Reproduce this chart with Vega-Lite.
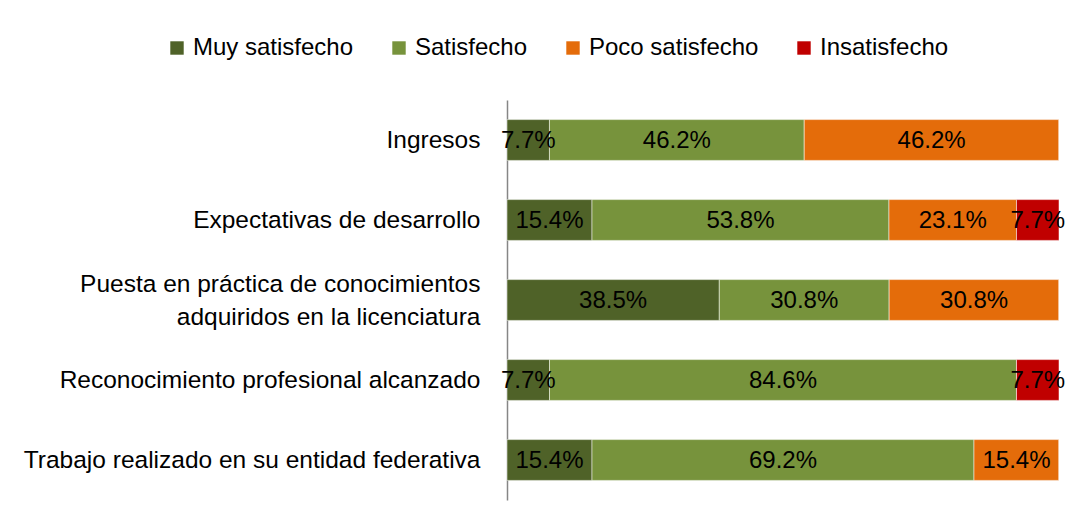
{
  "$schema": "https://vega.github.io/schema/vega-lite/v6.json",
  "width": 552,
  "height": 400,
  "autosize": {"type": "none"},
  "padding": {"left": 507, "top": 100, "right": 19, "bottom": 25},
  "background": "#ffffff",
  "config": {
    "font": "Liberation Sans",
    "view": {"stroke": null},
    "legend": {"padding": 0}
  },
  "data": {
    "values": [
      {"item": "Ingresos", "cat": "Muy satisfecho", "k": 1, "v": 0.077},
      {"item": "Ingresos", "cat": "Satisfecho", "k": 2, "v": 0.462},
      {"item": "Ingresos", "cat": "Poco satisfecho", "k": 3, "v": 0.462},
      {"item": "Ingresos", "cat": "Insatisfecho", "k": 4, "v": 0},
      {"item": "Expectativas de desarrollo", "cat": "Muy satisfecho", "k": 1, "v": 0.154},
      {"item": "Expectativas de desarrollo", "cat": "Satisfecho", "k": 2, "v": 0.538},
      {"item": "Expectativas de desarrollo", "cat": "Poco satisfecho", "k": 3, "v": 0.231},
      {"item": "Expectativas de desarrollo", "cat": "Insatisfecho", "k": 4, "v": 0.077},
      {"item": "Puesta en práctica de conocimientos adquiridos en la licenciatura", "cat": "Muy satisfecho", "k": 1, "v": 0.385},
      {"item": "Puesta en práctica de conocimientos adquiridos en la licenciatura", "cat": "Satisfecho", "k": 2, "v": 0.308},
      {"item": "Puesta en práctica de conocimientos adquiridos en la licenciatura", "cat": "Poco satisfecho", "k": 3, "v": 0.308},
      {"item": "Puesta en práctica de conocimientos adquiridos en la licenciatura", "cat": "Insatisfecho", "k": 4, "v": 0},
      {"item": "Reconocimiento profesional alcanzado", "cat": "Muy satisfecho", "k": 1, "v": 0.077},
      {"item": "Reconocimiento profesional alcanzado", "cat": "Satisfecho", "k": 2, "v": 0.846},
      {"item": "Reconocimiento profesional alcanzado", "cat": "Poco satisfecho", "k": 3, "v": 0},
      {"item": "Reconocimiento profesional alcanzado", "cat": "Insatisfecho", "k": 4, "v": 0.077},
      {"item": "Trabajo realizado en su entidad federativa", "cat": "Muy satisfecho", "k": 1, "v": 0.154},
      {"item": "Trabajo realizado en su entidad federativa", "cat": "Satisfecho", "k": 2, "v": 0.692},
      {"item": "Trabajo realizado en su entidad federativa", "cat": "Poco satisfecho", "k": 3, "v": 0.154},
      {"item": "Trabajo realizado en su entidad federativa", "cat": "Insatisfecho", "k": 4, "v": 0}
    ]
  },
  "encoding": {
    "y": {
      "field": "item",
      "type": "nominal",
      "sort": null,
      "title": null,
      "scale": {"paddingInner": 0.49, "paddingOuter": 0.245},
      "axis": {
        "ticks": false,
        "domainColor": "#868686",
        "domainWidth": 1.5,
        "labelFontSize": 24.5,
        "labelColor": "#000000",
        "labelPadding": 27,
        "labelLimit": 600,
        "labelLineHeight": 33,
        "labelOffset": {
          "condition": {"test": "datum.value == 'Puesta en práctica de conocimientos adquiridos en la licenciatura'", "value": -15},
          "value": 1
        },
        "labelExpr": "datum.label == 'Puesta en práctica de conocimientos adquiridos en la licenciatura' ? ['Puesta en práctica de conocimientos', 'adquiridos en la licenciatura'] : datum.label"
      }
    }
  },
  "layer": [
    {
      "mark": {"type": "bar", "stroke": "#ffffff", "strokeWidth": 1, "strokeOpacity": 0.5},
      "encoding": {
        "x": {"field": "v", "type": "quantitative", "stack": "normalize", "axis": null},
        "color": {
          "field": "cat",
          "type": "nominal",
          "scale": {
            "domain": ["Muy satisfecho", "Satisfecho", "Poco satisfecho", "Insatisfecho"],
            "range": ["#4F6228", "#77933C", "#E46C0A", "#C00000"]
          },
          "legend": {
            "title": null,
            "orient": "none",
            "direction": "horizontal",
            "columns": 4,
            "legendX": -342,
            "legendY": -64,
            "symbolType": "square",
            "symbolSize": 180,
            "symbolStrokeWidth": 0,
            "labelFontSize": 24,
            "labelColor": "#000000",
            "labelOffset": 4,
            "columnPadding": 33,
            "labelLimit": 400
          }
        },
        "order": {"field": "k", "type": "quantitative"}
      }
    },
    {
      "transform": [{"filter": "datum.v > 0"}],
      "mark": {"type": "text", "fontSize": 24, "color": "#000000", "align": "center", "baseline": "middle", "dy": 1},
      "encoding": {
        "x": {"field": "v", "type": "quantitative", "stack": "normalize", "bandPosition": 0.5},
        "text": {"field": "v", "type": "quantitative", "format": ".1%"},
        "order": {"field": "k", "type": "quantitative"}
      }
    }
  ]
}
